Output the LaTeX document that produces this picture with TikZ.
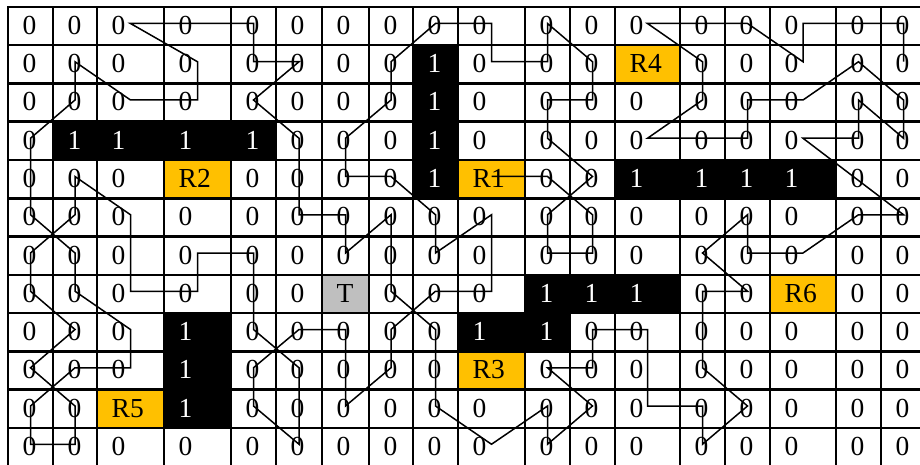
\documentclass[tikz,border=0pt]{standalone}
\usepackage{fontspec}
\setmainfont{Liberation Serif}
\usepackage{xcolor}
\definecolor{robotgold}{HTML}{FFC000}
\definecolor{goalgray}{HTML}{BFBFBF}
\tikzset{
  gridline/.style = {line width=2.5pt, line cap=rect},
  route/.style    = {line width=1.5pt},
  cell/.style     = {anchor=base west, inner sep=0pt,
                     font=\fontsize{27.5}{30}\selectfont},
  wall/.style     = {fill=black, text=white},
  robot/.style    = {fill=robotgold},
  goal/.style     = {fill=goalgray},
  kind 0/.style   = {},
  kind 1/.style   = {wall},
  kind T/.style   = {goal},
  kind R1/.style  = {robot}, kind R2/.style = {robot},
  kind R3/.style  = {robot}, kind R4/.style = {robot},
  kind R5/.style  = {robot}, kind R6/.style = {robot},
}

\begin{document}
\begin{tikzpicture}[x=1pt,y=-1pt]
\useasboundingbox (0,0) rectangle (920,465);
\clip (0,0) rectangle (920,465);
\def\colx{{8,53,97,164,231,276,322,369,413,458,525,570,615,680,725,770,836,881,926}}
% cells: fill, centre point and text
\foreach \cells [count=\rn from 0] in {
  {0,0,0,0,0,0,0,0,0,0,0,0,0,0,0,0,0,0},
  {0,0,0,0,0,0,0,0,1,0,0,0,R4,0,0,0,0,0},
  {0,0,0,0,0,0,0,0,1,0,0,0,0,0,0,0,0,0},
  {0,1,1,1,1,0,0,0,1,0,0,0,0,0,0,0,0,0},
  {0,0,0,R2,0,0,0,0,1,R1,0,0,1,1,1,1,0,0},
  {0,0,0,0,0,0,0,0,0,0,0,0,0,0,0,0,0,0},
  {0,0,0,0,0,0,0,0,0,0,0,0,0,0,0,0,0,0},
  {0,0,0,0,0,0,T,0,0,0,1,1,1,0,0,R6,0,0},
  {0,0,0,1,0,0,0,0,0,1,1,0,0,0,0,0,0,0},
  {0,0,0,1,0,0,0,0,0,R3,0,0,0,0,0,0,0,0},
  {0,0,R5,1,0,0,0,0,0,0,0,0,0,0,0,0,0,0},
  {0,0,0,0,0,0,0,0,0,0,0,0,0,0,0,0,0,0}}{
  \foreach \v [count=\cn from 0] in \cells {
    \pgfmathsetmacro\xa{\colx[\cn]}
    \pgfmathsetmacro\xb{\colx[\cn+1]}
    \pgfmathsetmacro\ya{7+38.25*\rn}
    \path[kind \v] (\xa,\ya) rectangle (\xb,\ya+38.25);
    \coordinate (p-\cn-\rn) at ({(\xa+\xb)/2},\ya+16.5);
    \node[cell,kind \v] (n-\cn-\rn) at (\xa+14.5,\ya+27.5) {\v};
  }
}
% table rules
\foreach \x in {8,53,97,164,231,276,322,369,413,458,525,570,615,680,725,770,836,881}
  \draw[gridline] (\x,7) -- (\x,470);
\foreach \rn in {0,...,11}
  \draw[gridline] (8,7+38.25*\rn) -- (930,7+38.25*\rn);
% route
\draw[route] (p-9-4) -- (p-10-4) -- (p-11-5) -- (p-11-6) -- (p-10-6) -- (p-10-5)
  -- (p-11-4) -- (p-10-3) -- (p-10-2) -- (p-11-2) -- (p-11-1) -- (p-10-0)
  -- (p-10-1) -- (p-9-1) -- (p-9-0) -- (p-8-0) -- (p-7-1) -- (p-7-2)
  -- (p-6-3) -- (p-6-4) -- (p-7-4) -- (p-8-5) -- (p-8-6) -- (p-9-5)
  -- (p-9-7) -- (p-8-7) -- (p-7-8) -- (p-7-9) -- (p-6-10) -- (p-6-8)
  -- (p-5-8) -- (p-4-9) -- (p-4-10) -- (p-5-11) -- (p-5-9) -- (p-4-8)
  -- (p-4-6) -- (p-3-6) -- (p-3-7) -- (p-2-7) -- (p-2-5) -- (p-1-4)
  -- (p-1-5) -- (p-0-6) -- (p-0-7) -- (p-1-8) -- (p-0-9) -- (p-1-10)
  -- (p-1-11) -- (p-0-11) -- (p-0-10) -- (p-1-9) -- (p-2-9) -- (p-2-8)
  -- (p-1-7) -- (p-1-6) -- (p-0-5) -- (p-0-3) -- (p-1-2) -- (p-1-1)
  -- (p-2-2) -- (p-3-2) -- (p-3-1) -- (p-2-0) -- (p-4-0) -- (p-4-1)
  -- (p-5-1) -- (p-4-2) -- (p-5-3) -- (p-5-5) -- (p-6-5) -- (p-6-6)
  -- (p-7-5) -- (p-7-7) -- (p-8-8) -- (p-8-10) -- (p-9-11) -- (p-10-10)
  -- (p-10-11) -- (p-11-10) -- (p-10-9) -- (p-11-9) -- (p-11-8) -- (p-12-8)
  -- (p-12-10) -- (p-13-10) -- (p-13-11) -- (p-14-10) -- (p-13-9) -- (p-13-7)
  -- (p-14-7) -- (p-13-6) -- (p-14-5) -- (p-14-6) -- (p-15-6) -- (p-16-5)
  -- (p-17-5) -- (p-15-3) -- (p-16-3) -- (p-16-2) -- (p-17-3) -- (p-17-2)
  -- (p-16-1) -- (p-15-2) -- (p-14-2) -- (p-14-3) -- (p-12-3) -- (p-13-2)
  -- (p-13-1) -- (p-12-0) -- (p-14-0) -- (p-15-1) -- (p-15-0) -- (p-17-0)
  -- (p-17-1);
\end{tikzpicture}
\end{document}
